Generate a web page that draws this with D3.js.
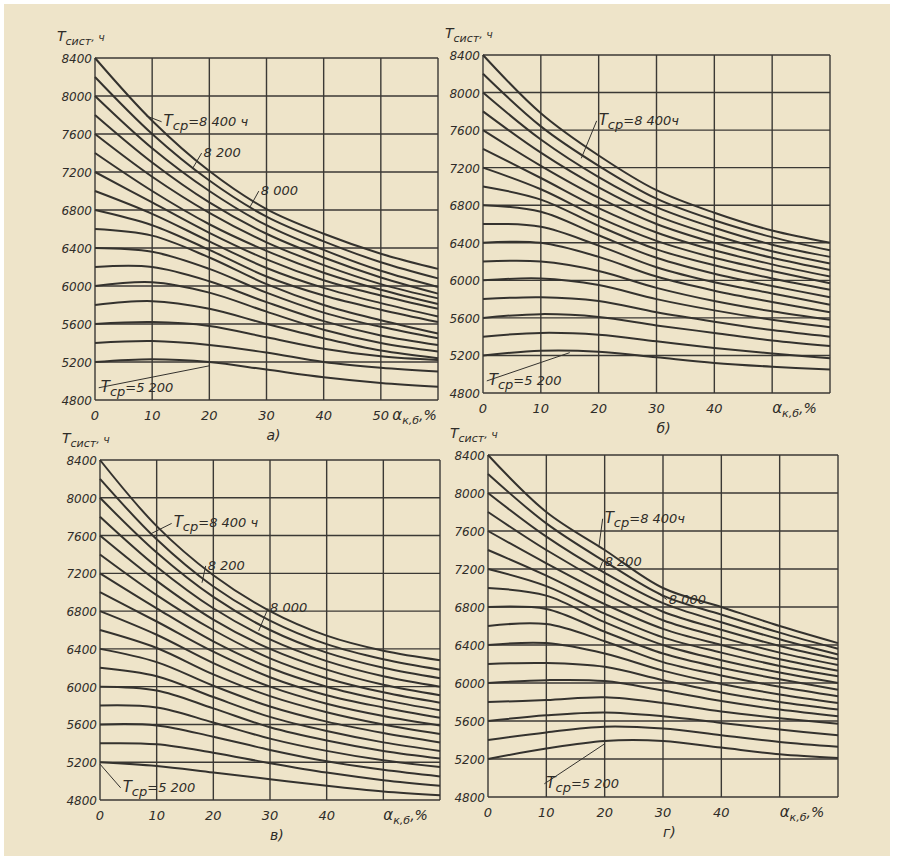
<!DOCTYPE html>
<html>
  <head>
    <script src="https://cdn.jsdelivr.net/npm/d3@7"></script>
    <style>
body { margin: 0; background: #fff; }
text { font-family: "DejaVu Sans", sans-serif; font-style: italic; fill: #2e2c28; }
    </style>
  </head>
  <body>
    <script>

var alphas = [0, 10, 20, 30, 40, 50, 60],
    yTicks = [4800, 5200, 5600, 6000, 6400, 6800, 7200, 7600, 8000, 8400],
    xTicks = [0, 10, 20, 30, 40, 50];

var curvesA = [
  [8400,7740,7210,6810,6550,6340,6180],
  [8200,7600,7110,6730,6470,6250,6080],
  [8000,7450,7000,6640,6380,6160,5990],
  [7800,7300,6880,6550,6300,6090,5920],
  [7600,7150,6770,6460,6220,6020,5870],
  [7400,7000,6650,6370,6140,5960,5810],
  [7200,6880,6560,6280,6060,5900,5760],
  [7000,6760,6470,6190,5980,5820,5680],
  [6800,6640,6380,6100,5900,5750,5620],
  [6600,6530,6300,6020,5800,5640,5500],
  [6400,6360,6180,5930,5720,5570,5450],
  [6200,6200,6050,5830,5630,5480,5380],
  [6000,6040,5930,5730,5540,5400,5310],
  [5800,5840,5760,5600,5450,5320,5240],
  [5600,5620,5580,5460,5340,5260,5220],
  [5400,5420,5380,5300,5200,5140,5100],
  [5200,5230,5200,5120,5040,4980,4940]
];
var curvesB = [
  [8400,7780,7330,6960,6720,6530,6400],
  [8200,7640,7220,6870,6640,6460,6320],
  [8000,7500,7100,6780,6560,6380,6250],
  [7800,7360,6990,6690,6480,6310,6180],
  [7600,7220,6880,6600,6400,6240,6110],
  [7400,7090,6770,6510,6320,6170,6040],
  [7200,6970,6670,6420,6240,6100,5970],
  [7000,6860,6580,6330,6160,6020,5900],
  [6800,6730,6480,6240,6070,5940,5820],
  [6600,6570,6370,6140,5980,5860,5740],
  [6400,6400,6250,6040,5890,5770,5660],
  [6200,6200,6100,5920,5780,5670,5580],
  [6000,6020,5950,5800,5680,5580,5500],
  [5800,5820,5780,5660,5560,5470,5400],
  [5600,5640,5610,5520,5440,5360,5300],
  [5400,5440,5420,5350,5280,5220,5170],
  [5200,5250,5240,5180,5120,5080,5050]
];
var curvesC = [
  [8400,7700,7180,6800,6540,6380,6280],
  [8200,7560,7060,6700,6450,6290,6180],
  [8000,7420,6950,6600,6360,6200,6090],
  [7800,7270,6830,6500,6270,6110,6000],
  [7600,7120,6710,6400,6180,6020,5910],
  [7400,6970,6600,6300,6090,5940,5830],
  [7200,6830,6480,6200,6000,5860,5750],
  [7000,6690,6370,6100,5910,5780,5670],
  [6800,6550,6250,6000,5820,5690,5590],
  [6600,6410,6130,5900,5730,5600,5500],
  [6400,6260,6010,5790,5630,5510,5410],
  [6200,6110,5890,5680,5530,5410,5320],
  [6000,5960,5770,5570,5430,5320,5240],
  [5800,5780,5620,5450,5320,5220,5150],
  [5600,5590,5470,5330,5210,5120,5050],
  [5400,5390,5300,5190,5090,5010,4950],
  [5200,5160,5090,5020,4950,4890,4850]
];
var curvesD = [
  [8400,7800,7400,7000,6800,6600,6420],
  [8200,7680,7280,6920,6720,6530,6360],
  [8000,7540,7160,6840,6640,6460,6300],
  [7800,7400,7050,6750,6560,6390,6250],
  [7600,7260,6940,6660,6480,6320,6190],
  [7400,7130,6830,6570,6400,6250,6130],
  [7200,7020,6730,6480,6320,6180,6070],
  [7000,6920,6640,6400,6240,6110,6000],
  [6800,6780,6540,6310,6160,6040,5930],
  [6600,6620,6440,6220,6080,5960,5860],
  [6400,6420,6310,6130,5990,5880,5790],
  [6200,6210,6170,6030,5900,5800,5720],
  [6000,6030,6020,5920,5810,5720,5650],
  [5800,5820,5850,5790,5700,5630,5570],
  [5600,5660,5690,5650,5580,5510,5450],
  [5400,5480,5540,5520,5450,5380,5330],
  [5200,5310,5390,5390,5320,5250,5210]
];

// [text, with "Tср=" prefix, labelX, labelY, pointX, pointY] in data units
var notesA = [["8 400 ч", true, 12, 7750, 9, 7790], ["8 200", false, 19, 7420, 17, 7230], ["8 000", false, 29, 7020, 27, 6820], ["5 200", true, 1, 4950, 20, 5160]];
var notesB = [["8 400ч", true, 20, 7720, 17, 7300], ["5 200", true, 1, 4950, 15, 5230]];
var notesC = [["8 400 ч", true, 13, 7750, 9, 7620], ["8 200", false, 19, 7300, 18, 7100], ["8 000", false, 30, 6850, 28, 6590], ["5 200", true, 4, 4950, 0, 5180]];
var notesD = [["8 400ч", true, 20, 7750, 19, 7430], ["8 200", false, 20, 7300, 19, 7180], ["8 000", false, 31, 6900, 29, 6950], ["5 200", true, 10, 4960, 20, 5360]];

var panels = [
  {c: curvesA, n: notesA, x: 95, y: 58, w: 343, h: 342, cap: "а)", full: true},
  {c: curvesB, n: notesB, x: 483, y: 55, w: 347, h: 338, cap: "б)"},
  {c: curvesC, n: notesC, x: 100, y: 460, w: 340, h: 340, cap: "в)"},
  {c: curvesD, n: notesD, x: 488, y: 455, w: 350, h: 342, cap: "г)"}
];

var svg = d3.select("body").append("svg").attr("width", 901).attr("height", 861);
svg.append("rect").attr("x", 4).attr("y", 4).attr("width", 886).attr("height", 852).attr("fill", "#eee4c9");

panels.forEach(function(p) {
  var x = d3.scaleLinear().domain([0, 60]).range([p.x, p.x + p.w]),
      y = d3.scaleLinear().domain([4800, 8400]).range([p.y + p.h, p.y]),
      g = svg.append("g");

  g.selectAll("line.v").data(alphas).enter().append("line")
      .attr("x1", x).attr("x2", x).attr("y1", p.y).attr("y2", p.y + p.h)
      .attr("stroke", "#3b3935").attr("stroke-width", 1.4);
  g.selectAll("line.h").data(yTicks).enter().append("line")
      .attr("y1", y).attr("y2", y).attr("x1", p.x).attr("x2", p.x + p.w)
      .attr("stroke", "#3b3935").attr("stroke-width", 1.4);

  g.selectAll("text.y").data(yTicks).enter().append("text")
      .attr("x", p.x - 3).attr("y", function(d) { return y(d) + 5; })
      .attr("text-anchor", "end").attr("font-size", 12).text(String);
  var xs = p.full ? xTicks : xTicks.slice(0, 5);
  g.selectAll("text.x").data(xs).enter().append("text")
      .attr("x", x).attr("y", p.y + p.h + 20)
      .attr("text-anchor", "middle").attr("font-size", 13).text(String);
  var ax = g.append("text").attr("x", p.full ? x(52) : x(50)).attr("y", p.y + p.h + 20).attr("font-size", 15);
  ax.append("tspan").text("α");
  ax.append("tspan").attr("font-size", 11).attr("dy", 4).text("к,б");
  ax.append("tspan").attr("dy", -4).attr("font-size", 14).text(",%");
  g.append("text").attr("x", x(30)).attr("y", p.y + p.h + 40).attr("font-size", 14).text(p.cap);

  var t = g.append("text").attr("x", p.x - 38).attr("y", p.y - 17).attr("font-size", 14);
  t.append("tspan").text("T");
  t.append("tspan").attr("font-size", 11).attr("dy", 4).text("сист");
  t.append("tspan").attr("dy", -4).attr("font-size", 11).text(", ч");

  var line = d3.line()
      .x(function(d, i) { return x(alphas[i]); })
      .y(function(d) { return y(d); })
      .curve(d3.curveCatmullRom.alpha(0.5));
  g.selectAll("path.c").data(p.c).enter().append("path")
      .attr("d", line).attr("fill", "none")
      .attr("stroke", "#34322e").attr("stroke-width", 2);

  p.n.forEach(function(n) {
    g.append("line").attr("x1", x(n[2]) - 2).attr("y1", y(n[3]) + 2)
        .attr("x2", x(n[4])).attr("y2", y(n[5]))
        .attr("stroke", "#34322e").attr("stroke-width", 1);
    var l = g.append("text").attr("x", x(n[2])).attr("y", y(n[3]) + 6).attr("font-size", 13);
    if (n[1]) {
      l.append("tspan").attr("font-size", 15).text("T");
      l.append("tspan").attr("dy", 4).text("ср");
      l.append("tspan").attr("dy", -4).text("=" + n[0]);
    } else l.text(n[0]);
  });
});

    </script>
  </body>
</html>
